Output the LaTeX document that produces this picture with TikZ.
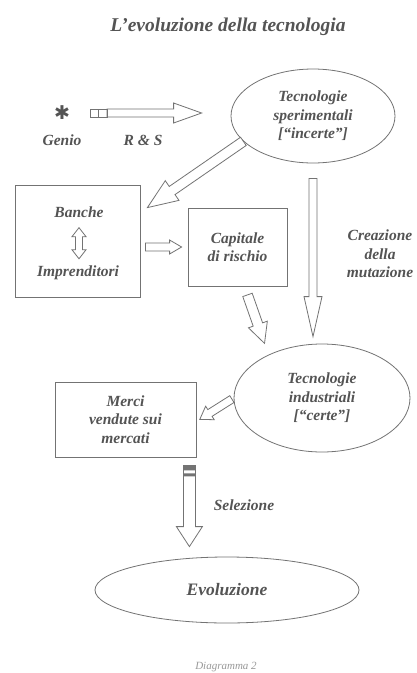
\documentclass[tikz,border=0pt]{standalone}
\usepackage{fontspec}
\setmainfont{Liberation Serif}
\newfontfamily\symfont{DejaVu Sans}
\usetikzlibrary{calc,shapes.geometric}

\definecolor{linegray}{gray}{0.45}
\definecolor{inkgray}{gray}{0.33}

\tikzset{
  fatw/.store in=\fatw, fath/.store in=\fath, fatl/.store in=\fatl,
  fatsa/.store in=\fatsa, fatsb/.store in=\fatsb,
  fatw=4, fath=9, fatl=14, fatsa=0, fatsb=0,
  % hollow block arrow from start to target
  fat/.style={draw=linegray, line width=0.8pt, fill=white,
    to path={let \p1=(\tikztostart), \p2=(\tikztotarget),
      \p3=($(\p1)!\fatsa pt!(\p2)$), \p4=($(\p2)!\fatsb pt!(\p1)$),
      \p5=($(\p4)-(\p3)$), \n1={atan2(\y5,\x5)}, \n2={veclen(\x5,\y5)} in
      ($(\p3)+(\n1+90:\fatw pt)$) -- ++(\n1:\n2-\fatl pt) -- ++(\n1+90:\fath pt-\fatw pt) -- (\p4)
      -- ($(\p4)+(\n1+180:\fatl pt)+(\n1-90:\fath pt)$) -- ++(\n1+90:\fath pt-\fatw pt)
      -- ($(\p3)+(\n1-90:\fatw pt)$) -- cycle}},
  % hollow block arrow with two heads
  fatboth/.style={draw=linegray, line width=0.8pt, fill=white,
    to path={let \p1=(\tikztostart), \p2=(\tikztotarget),
      \p3=($(\p1)!\fatsa pt!(\p2)$), \p4=($(\p2)!\fatsb pt!(\p1)$),
      \p5=($(\p4)-(\p3)$), \n1={atan2(\y5,\x5)}, \n2={veclen(\x5,\y5)} in
      (\p3) -- ($(\p3)+(\n1:\fatl pt)+(\n1+90:\fath pt)$) -- ++(\n1-90:\fath pt-\fatw pt)
      -- ++(\n1:\n2-2*\fatl pt) -- ++(\n1+90:\fath pt-\fatw pt) -- (\p4)
      -- ($(\p4)+(\n1+180:\fatl pt)+(\n1-90:\fath pt)$) -- ++(\n1+90:\fath pt-\fatw pt)
      -- ++(\n1+180:\n2-2*\fatl pt) -- ++(\n1-90:\fath pt-\fatw pt) -- cycle}},
  lbl/.style={text=inkgray, font=\fontsize{15.5}{18.5}\selectfont\bfseries\itshape, align=center, inner sep=1pt},
  box/.style={draw=linegray, line width=0.8pt, inner sep=0pt, lbl},
  ell/.style={draw=linegray, line width=0.8pt, ellipse, inner sep=0pt, lbl},
}

\begin{document}
\begin{tikzpicture}[x=1pt, y=-1pt]
\useasboundingbox[fill=white] (0,0) rectangle (417,673);

\node[lbl, font=\fontsize{19.5}{22}\selectfont\bfseries\itshape] (title) at (228,27) {L'evoluzione della tecnologia};

% top row
\node[text=inkgray, font=\symfont\fontsize{19}{19}\selectfont] (star) at (62,113) {✱};
\node[lbl] (genio) at (62,140) {Genio};
\coordinate (rs) at (90,113);
\node[lbl] (rslbl) at (143,140) {R \& S};
\node[ell, minimum width=164pt, minimum height=94pt] (ell1) at (313,116) {Tecnologie\\sperimentali\\{[}``incerte''{]}};

% middle row
\node[box, minimum width=125pt, minimum height=112pt] (bbox) at (77.5,241) {};
\node[lbl] (bnk) at (79,212) {Banche};
\node[lbl] (imp) at (78,273) {Imprenditori};
\node[box, minimum width=99pt, minimum height=78pt] (cap) at (237.5,247) {Capitale\\di rischio};
\node[lbl] (crea) at (380,254) {Creazione\\della\\mutazione};

% lower part
\node[ell, minimum width=176pt, minimum height=108pt] (ell2) at (322,398) {Tecnologie\\industriali\\{[}``certe''{]}};
\node[box, minimum width=141pt, minimum height=75pt] (merci) at (125.5,419.5) {Merci\\vendute sui\\mercati};
\coordinate (seltop) at ([xshift=-7pt]merci.south east);
\node[lbl] (sel) at (244,505) {Selezione};
\node[ell, minimum width=264pt, minimum height=66pt, font=\fontsize{17.5}{20}\selectfont\bfseries\itshape] (ell3) at (227,590) {Evoluzione};
\node[lbl, text=gray!80, font=\fontsize{11}{13}\selectfont\itshape] (diag) at (226,667) {Diagramma 2};

% arrows
\draw[fat, fatw=4, fath=10, fatl=28, fatsa=17, fatsb=29] (rs) to (rs -| ell1.west);
\draw[linegray, line width=0.7pt] (rs) ++(0,-4) rectangle ++(8,8) ++(0,-8) rectangle ++(9,8);
\draw[fat, fatw=5, fath=12, fatl=30] (ell1.200) to ([shift={(7,23)}]bbox.north east);
\draw[fatboth, fatw=3.5, fath=7, fatl=9, fatsa=9, fatsb=6] (bnk.south) to (bnk.south |- imp.north);
\draw[fat, fatw=4, fath=7, fatl=12, fatsa=5, fatsb=6] (bbox.east |- cap.west) to (cap.west);
\draw[fat, fatw=5, fath=10, fatl=20, fatsa=9, fatsb=12] ([xshift=7pt]cap.south) to (ell2.141);
\draw[fat, fatw=4, fath=9, fatl=40, fatsa=15, fatsb=7] (ell1.south) to (ell1.south |- ell2.north);
\draw[fat, fatw=4, fath=8, fatl=12, fatsa=2, fatsb=4] (ell2.west) to ([shift={(0,2)}]merci.east);
\draw[fat, fatw=6, fath=13, fatl=20, fatsa=8, fatsb=10] (seltop) to (seltop |- ell3.north);
\fill[linegray] (seltop) ++(-6,8) rectangle ++(12,5) ++(-12,3) rectangle ++(12,3);

\end{tikzpicture}
\end{document}
